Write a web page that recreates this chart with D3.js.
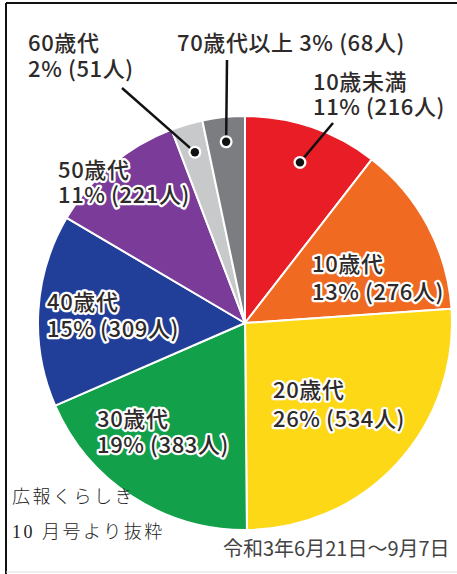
<!DOCTYPE html>
<html><head><meta charset="utf-8">
<script src="https://cdn.jsdelivr.net/npm/d3@7/dist/d3.min.js"></script>
<style>
html,body{margin:0;padding:0;background:#fff;}
svg{display:block;}
</style></head>
<body>
<svg id="chart" width="457" height="574"></svg>
<script>
const categories = ["10歳未満","10歳代","20歳代","30歳代","40歳代","50歳代","60歳代","70歳代以上"];
const values = [216,276,534,383,309,221,51,68];
const percents = ["11%","13%","26%","19%","15%","11%","2%","3%"];
const colors = ["#e81d25","#f06b21","#fdd817","#12a04b","#213f99","#7b3b98","#c8c9cb","#7c7d80"];

const svg = d3.select("#chart");
const W = 457, H = 574;
const cx = 245, cy = 323, R = 207;

// frame
svg.append("line").attr("x1",6).attr("y1",3).attr("x2",W).attr("y2",3).attr("stroke","#111").attr("stroke-width",2);
svg.append("line").attr("x1",6).attr("y1",3).attr("x2",6).attr("y2",H).attr("stroke","#111").attr("stroke-width",2);
svg.append("line").attr("x1",6).attr("y1",572).attr("x2",W).attr("y2",572).attr("stroke","#ddd").attr("stroke-width",1);

const data = categories.map((c,i)=>({cat:c, value:values[i], pct:percents[i], color:colors[i]}));
const pie = d3.pie().value(d=>d.value).sort(null);
const arcs = pie(data);
const arc = d3.arc().innerRadius(0).outerRadius(R);

const g = svg.append("g").attr("transform",`translate(${cx},${cy})`);
g.selectAll("path").data(arcs).enter().append("path")
  .attr("d",arc).attr("fill",d=>d.data.color)
  .attr("stroke","#fff").attr("stroke-width",2).attr("stroke-linejoin","round");

const font = "'Noto Sans CJK JP','Noto Sans',sans-serif";
const textColor = "#2e2a2a";

function label(lines, x, y0, dy, halo){
  const s = svg.append("text").attr("x",x).attr("y",y0)
    .attr("font-family",font).attr("font-size",22).attr("font-weight",500)
    .attr("letter-spacing",0.6).attr("fill",textColor);
  lines.forEach((t,i)=>{
    s.append("tspan").attr("x",x).attr("y",y0+i*dy).text(t);
  });
  if(halo){
    s.attr("stroke","#fff").attr("stroke-width",4.5).attr("stroke-linejoin","round")
     .style("paint-order","stroke");
  }
}

// leader lines (from label to dot inside slice)
function leader(i, x1, y1, rFrac){
  const a = arcs[i];
  const mid = (a.startAngle + a.endAngle)/2;
  const r = R*rFrac;
  const px = cx + r*Math.sin(mid), py = cy - r*Math.cos(mid);
  svg.append("line").attr("x1",x1).attr("y1",y1).attr("x2",px).attr("y2",py)
    .attr("stroke","#111").attr("stroke-width",2.5);
  svg.append("circle").attr("cx",px).attr("cy",py).attr("r",6.5).attr("fill","#fff");
  svg.append("circle").attr("cx",px).attr("cy",py).attr("r",4.2).attr("fill","#111");
}
leader(6, 122, 88, 0.86);
leader(7, 227, 60, 0.88);
leader(0, 333, 123, 0.82);

label([categories[6], `${percents[6]} (${values[6]}人)`], 28, 51, 26, false);
label([`${categories[7]} ${percents[7]} (${values[7]}人)`], 177, 51, 26, false);
label([categories[0], `${percents[0]} (${values[0]}人)`], 313, 90, 25, false);
label([categories[5], `${percents[5]} (${values[5]}人)`], 58, 178, 25, true);
label([categories[1], `${percents[1]} (${values[1]}人)`], 312, 272, 28, true);
label([categories[4], `${percents[4]} (${values[4]}人)`], 47, 310, 27, true);
label([categories[2], `${percents[2]} (${values[2]}人)`], 273, 398, 29, true);
label([categories[3], `${percents[3]} (${values[3]}人)`], 97, 427, 26, true);

// source notes
const serif = "'Liberation Serif','DejaVu Serif','Noto Sans CJK JP',serif";
[["広報くらしき",503],["10 月号より抜粋",538]].forEach(([t,y])=>{
  svg.append("text").attr("x",12).attr("y",y).text(t)
    .attr("font-family",serif).attr("font-size",18).attr("font-weight",300)
    .attr("letter-spacing",2.5).attr("fill","#222");
});
svg.append("text").attr("x",223).attr("y",556).text("令和3年6月21日～9月7日")
  .attr("font-family",font).attr("font-size",20).attr("fill","#444");
</script>
</body></html>
